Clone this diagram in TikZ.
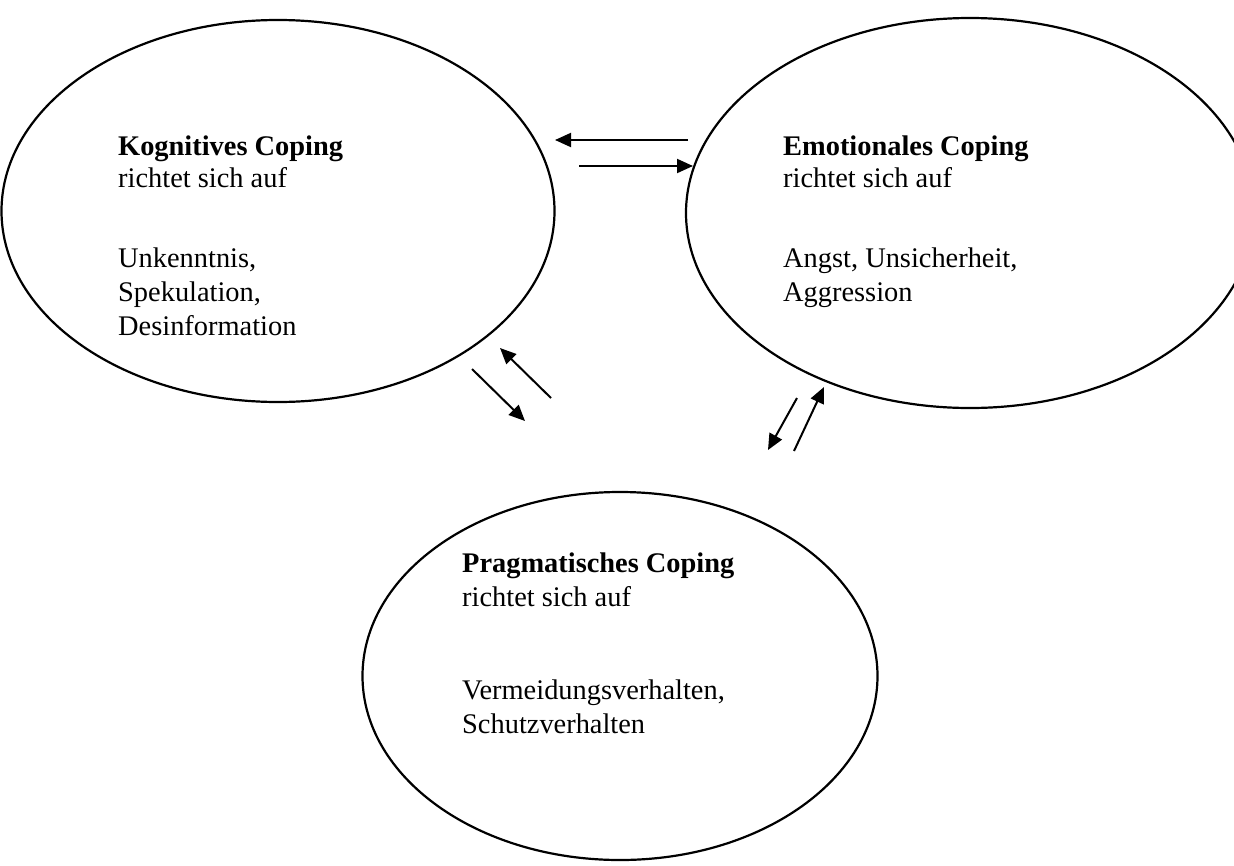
\documentclass[tikz,border=0pt]{standalone}
\usepackage{fontspec}
\setmainfont{Liberation Serif}
\usetikzlibrary{shapes.geometric,arrows.meta}
\begin{document}
\begin{tikzpicture}[x=1pt,y=-1pt,
  oval/.style={draw=black,line width=2.2pt,ellipse,inner sep=0pt,outer sep=0pt},
  txt/.style={anchor=base west,inner sep=0pt,font=\fontsize{28.4}{33}\selectfont},
  ttl/.style={txt,font=\fontsize{28.4}{33}\selectfont\bfseries},
  arr/.style={line width=2pt,-{Triangle[length=16pt,width=14pt]}}]
\useasboundingbox (0,0) rectangle (1234,865);
\clip (0,0) rectangle (1234,865);
% ellipses
\node[oval,minimum width=553pt,minimum height=382pt] (kog) at (278,211) {};
\node[oval,minimum width=568pt,minimum height=390pt] (emo) at (970,213) {};
\node[oval,minimum width=515pt,minimum height=368pt] (prag) at (620,676) {};
% texts
\node[ttl] (k1) at (118,155) {Kognitives Coping};
\node[txt] (k2) at (118,187) {richtet sich auf};
\node[txt] (k3) at (118,267) {Unkenntnis,};
\node[txt] (k4) at (118,301) {Spekulation,};
\node[txt] (k5) at (118,335) {Desinformation};
\node[ttl] (e1) at (783,155) {Emotionales Coping};
\node[txt] (e2) at (783,187) {richtet sich auf};
\node[txt] (e3) at (783,267) {Angst, Unsicherheit,};
\node[txt] (e4) at (783,301) {Aggression};
\node[ttl] (p1) at (462,572) {Pragmatisches Coping};
\node[txt] (p2) at (462,606) {richtet sich auf};
\node[txt] (p3) at (462,699) {Vermeidungsverhalten,};
\node[txt] (p4) at (462,733) {Schutzverhalten};
% arrow end points
\coordinate (ke1) at (688,140);
\coordinate (ke2) at (555,140);
\coordinate (ek1) at (579,166);
\coordinate (ek2) at (693,166);
\coordinate (pk1) at (551,398);
\coordinate (pk2) at (500,348);
\coordinate (kp1) at (472,369);
\coordinate (kp2) at (525,421);
\coordinate (pe1) at (794,451);
\coordinate (pe2) at (824,387);
\coordinate (ep1) at (797,398);
\coordinate (ep2) at (768,450);
\draw[arr] (ke1) -- (ke2);
\draw[arr] (ek1) -- (ek2);
\draw[arr] (pk1) -- (pk2);
\draw[arr] (kp1) -- (kp2);
\draw[arr] (pe1) -- (pe2);
\draw[arr] (ep1) -- (ep2);
\end{tikzpicture}
\end{document}
